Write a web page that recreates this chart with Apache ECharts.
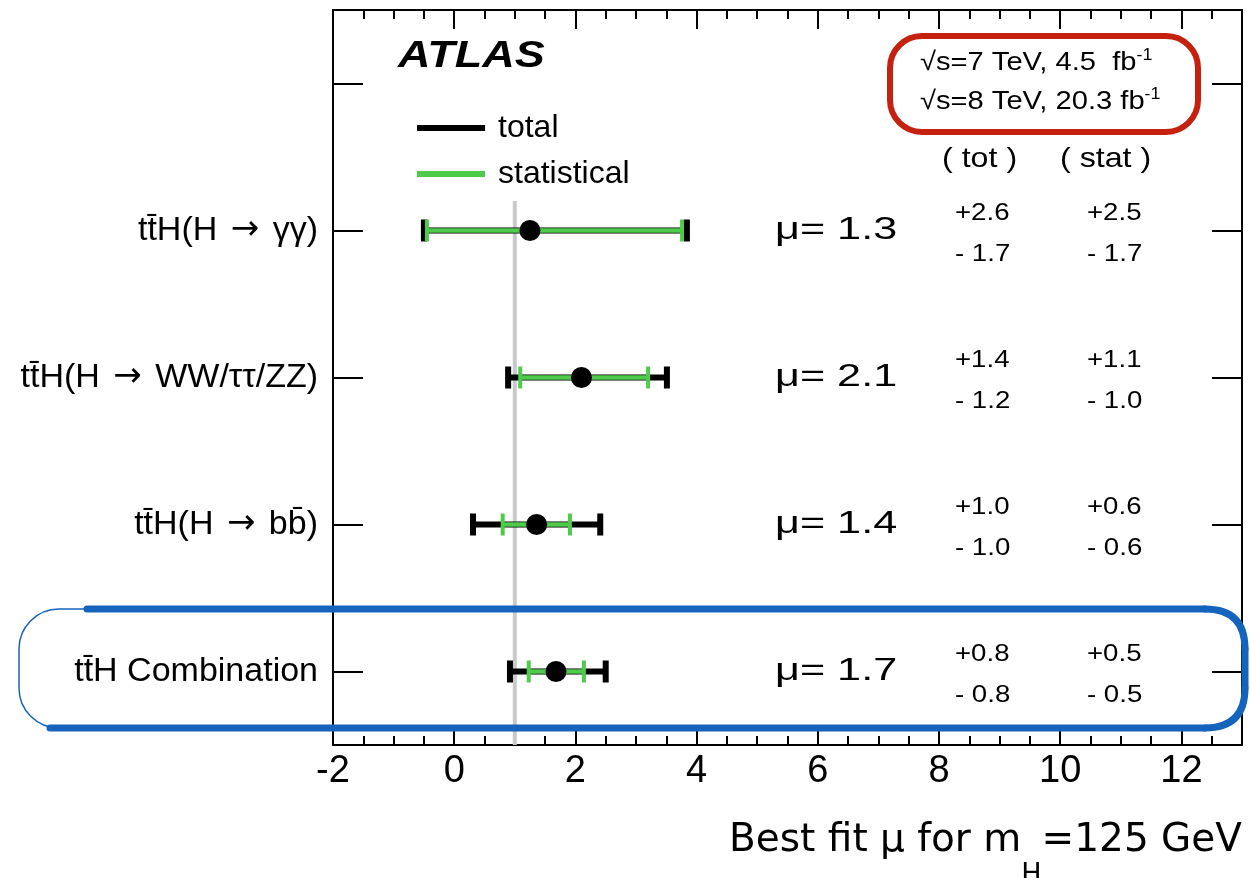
<!DOCTYPE html>
<html>
<head>
<meta charset="utf-8">
<script src="https://cdn.jsdelivr.net/npm/echarts@6/dist/echarts.min.js"></script>
<style>
  html, body { margin: 0; padding: 0; background: #fff; }
  #chart { width: 1250px; height: 878px; }
</style>
</head>
<body>
<div id="chart"></div>
<script>
// ---------------- data ----------------
const categories = ['t\u0074\u0304H(H \u2192 \u03b3\u03b3)', 't\u0074\u0304H(H \u2192 WW/\u03c4\u03c4/ZZ)', 't\u0074\u0304H(H \u2192 bb\u0304)', 't\u0074\u0304H Combination'];
const rowPos = [4, 3, 2, 1];
const muFit = [1.25, 2.10, 1.36, 1.68];
const totLow = [-0.50, 0.89, 0.31, 0.92];
const totHigh = [3.84, 3.51, 2.41, 2.50];
const statLow = [-0.45, 1.09, 0.80, 1.23];
const statHigh = [3.76, 3.20, 1.91, 2.14];
const muText = ['1.3', '2.1', '1.4', '1.7'];
const totUp = ['+2.6', '+1.4', '+1.0', '+0.8'];
const totDn = ['- 1.7', '- 1.2', '- 1.0', '- 0.8'];
const statUp = ['+2.5', '+1.1', '+0.6', '+0.5'];
const statDn = ['- 1.7', '- 1.0', '- 0.6', '- 0.5'];
const smValue = 1;
const smLineRange = [0.5, 4.2];
const xMajorTicks = [-2, 0, 2, 4, 6, 8, 10, 12];

// ---------------- style ----------------
const FONT = '"Liberation Sans", Arial, Helvetica, sans-serif';
const WIDE_FONT = '"DejaVu Sans", "Liberation Sans", sans-serif';
const GREEN = '#4fcb4c';
const BLUE = '#1463bd';

const chart = echarts.init(document.getElementById('chart'), null, { renderer: 'canvas' });

function errorBar(color, lineW, capW, capH) {
  return function (params, api) {
    const y = api.value(2);
    const p1 = api.coord([api.value(0), y]);
    const p2 = api.coord([api.value(1), y]);
    const st = { stroke: color, lineWidth: lineW, lineCap: 'butt' };
    const cs = { stroke: color, lineWidth: capW, lineCap: 'butt' };
    return {
      type: 'group',
      children: [
        { type: 'line', shape: { x1: p1[0], y1: p1[1], x2: p2[0], y2: p2[1] }, style: st },
        { type: 'line', shape: { x1: p1[0], y1: p1[1] - capH / 2, x2: p1[0], y2: p1[1] + capH / 2 }, style: cs },
        { type: 'line', shape: { x1: p2[0], y1: p2[1] - capH / 2, x2: p2[0], y2: p2[1] + capH / 2 }, style: cs }
      ]
    };
  };
}

function txt(x, y, text, size, sx) {
  return {
    type: 'text', x: x, y: y, scaleX: sx, scaleY: 1,
    style: { text: text, fill: '#000', font: size + 'px ' + FONT, align: 'left', verticalAlign: 'middle' }
  };
}

function annotRender(params, api) {
  const i = params.dataIndex;
  const y = api.coord([0, api.value(1)])[1];
  return {
    type: 'group',
    children: [
      txt(775, y, '\u03bc= ' + muText[i], 32, 1.35),
      txt(955, y - 17, totUp[i], 24, 1.15),
      txt(955, y + 24, totDn[i], 24, 1.15),
      txt(1087, y - 17, statUp[i], 24, 1.15),
      txt(1087, y + 24, statDn[i], 24, 1.15)
    ]
  };
}

function yLabel(v) {
  const k = rowPos.indexOf(v);
  if (k < 0) return '';
  const parts = categories[k].split('\u2192');
  if (parts.length === 1) return '{n|' + parts[0] + '}';
  return '{n|' + parts[0] + '}{ar|\u2192}{n|' + parts[1] + '}';
}

const frameLine = { show: true, onZero: false, lineStyle: { color: '#000', width: 2 } };
const tickStyle = { color: '#000', width: 2 };
const blueThick = { fill: 'none', stroke: BLUE, lineWidth: 7, lineCap: 'round' };

const option = {
  backgroundColor: '#fff',
  animation: false,
  grid: { left: 333, right: 8, top: 10, bottom: 133, containLabel: false, outerBoundsMode: 'none' },
  legend: {
    data: ['total', 'statistical'],
    orient: 'vertical',
    left: 412, top: 107,
    icon: 'rect',
    itemWidth: 68, itemHeight: 6, itemGap: 14,
    selectedMode: false,
    textStyle: { fontSize: 32, fontFamily: FONT, color: '#000', lineHeight: 32, padding: [0, 0, 0, 8] }
  },
  xAxis: [
    {
      type: 'value', position: 'bottom', min: -2, max: 13, interval: 2,
      axisLine: frameLine,
      axisTick: { show: true, inside: true, length: 19, lineStyle: tickStyle },
      axisLabel: {
        fontSize: 38, fontFamily: FONT, color: '#000', margin: 8,
        formatter: function (v) { return xMajorTicks.indexOf(v) >= 0 ? String(v) : ''; }
      },
      splitLine: { show: false },
      name: '{a|Best fit \u03bc for m}{s|H}{a|=125 GeV}',
      nameLocation: 'end', nameGap: 0,
      nameTextStyle: {
        align: 'right', verticalAlign: 'top', padding: [76, 0, 0, 0],
        rich: {
          a: { fontSize: 39, fontFamily: WIDE_FONT, color: '#000', lineHeight: 40, verticalAlign: 'top' },
          s: { fontSize: 27, fontFamily: WIDE_FONT, color: '#000', lineHeight: 28, padding: [40, 0, 0, 0], verticalAlign: 'top' }
        }
      }
    },
    {
      type: 'value', position: 'bottom', min: -2, max: 13, interval: 0.5,
      axisLine: { show: false },
      axisTick: { show: true, inside: true, length: 9, lineStyle: tickStyle },
      axisLabel: { show: false }, splitLine: { show: false }
    },
    {
      type: 'value', position: 'top', min: -2, max: 13, interval: 2,
      axisLine: frameLine,
      axisTick: { show: true, inside: true, length: 19, lineStyle: tickStyle },
      axisLabel: { show: false }, splitLine: { show: false }
    },
    {
      type: 'value', position: 'top', min: -2, max: 13, interval: 0.5,
      axisLine: { show: false },
      axisTick: { show: true, inside: true, length: 9, lineStyle: tickStyle },
      axisLabel: { show: false }, splitLine: { show: false }
    }
  ],
  yAxis: [
    {
      type: 'value', position: 'left', min: 0.5, max: 5.5,
      axisLine: frameLine,
      axisTick: { show: true, inside: true, length: 30, lineStyle: tickStyle },
      axisLabel: {
        margin: 15,
        formatter: yLabel,
        rich: {
          n: { fontSize: 34, fontFamily: FONT, color: '#000' },
          ar: { fontSize: 34, fontFamily: WIDE_FONT, color: '#000', padding: [0, 4, 0, 4] }
        }
      },
      splitLine: { show: false }
    },
    {
      type: 'value', position: 'right', min: 0.5, max: 5.5,
      axisLine: frameLine,
      axisTick: { show: true, inside: true, length: 30, lineStyle: tickStyle },
      axisLabel: { show: false }, splitLine: { show: false }
    }
  ],
  series: [
    {
      name: 'SM', type: 'line', silent: true, z: 1, symbol: 'none',
      data: [[smValue, smLineRange[0]], [smValue, smLineRange[1]]],
      lineStyle: { color: '#c9c9c9', width: 4 }
    },
    {
      name: 'total', type: 'custom', z: 2,
      itemStyle: { color: '#000' },
      renderItem: errorBar('#000', 6, 6, 22),
      encode: { x: [0, 1], y: 2 },
      data: rowPos.map((r, i) => [totLow[i], totHigh[i], r])
    },
    {
      name: 'statistical', type: 'custom', z: 3,
      itemStyle: { color: GREEN },
      renderItem: errorBar(GREEN, 4.5, 4, 22),
      encode: { x: [0, 1], y: 2 },
      data: rowPos.map((r, i) => [statLow[i], statHigh[i], r])
    },
    {
      name: 'best fit', type: 'scatter', z: 5, symbol: 'circle', symbolSize: 21,
      itemStyle: { color: '#000', opacity: 1 },
      data: rowPos.map((r, i) => [muFit[i], r])
    },
    {
      name: 'annotations', type: 'custom', z: 6, silent: true,
      renderItem: annotRender,
      encode: { x: 0, y: 1 },
      data: rowPos.map((r) => [0, r])
    }
  ],
  graphic: [
    { type: 'text', x: 398, y: 57, scaleX: 1.25, z: 10,
      style: { text: 'ATLAS', fill: '#000', font: 'italic bold 36px ' + FONT, align: 'left', verticalAlign: 'middle' } },
    { type: 'text', x: 920, y: 63, scaleX: 1.12, z: 10,
      style: { text: '{n|\u221as=7 TeV, 4.5  fb}{p|-1}', fill: '#000', align: 'left', verticalAlign: 'middle',
        rich: { n: { font: '26px ' + FONT, fill: '#000' }, p: { font: '16px ' + FONT, fill: '#000', padding: [0, 0, 14, 0] } } } },
    { type: 'text', x: 920, y: 102, scaleX: 1.12, z: 10,
      style: { text: '{n|\u221as=8 TeV, 20.3 fb}{p|-1}', fill: '#000', align: 'left', verticalAlign: 'middle',
        rich: { n: { font: '26px ' + FONT, fill: '#000' }, p: { font: '16px ' + FONT, fill: '#000', padding: [0, 0, 14, 0] } } } },
    { type: 'text', x: 942, y: 159, scaleX: 1.15, z: 10,
      style: { text: '( tot )', fill: '#000', font: '28px ' + FONT, align: 'left', verticalAlign: 'middle' } },
    { type: 'text', x: 1060, y: 159, scaleX: 1.15, z: 10,
      style: { text: '( stat )', fill: '#000', font: '28px ' + FONT, align: 'left', verticalAlign: 'middle' } },
    { type: 'rect', z: 20, shape: { x: 890, y: 36, width: 308, height: 96, r: 32 },
      style: { fill: 'none', stroke: '#c4220f', lineWidth: 6 } },
    { type: 'rect', z: 20, shape: { x: 19, y: 609, width: 1226, height: 119, r: 40 },
      style: { fill: 'none', stroke: BLUE, lineWidth: 1.5 } },
    { type: 'line', z: 20, shape: { x1: 87, y1: 609, x2: 1205, y2: 609 }, style: blueThick },
    { type: 'bezierCurve', z: 20, shape: { x1: 1205, y1: 609, cpx1: 1245, cpy1: 609, x2: 1245, y2: 649 }, style: blueThick },
    { type: 'line', z: 20, shape: { x1: 1245, y1: 649, x2: 1245, y2: 688 }, style: blueThick },
    { type: 'bezierCurve', z: 20, shape: { x1: 1245, y1: 688, cpx1: 1245, cpy1: 728, x2: 1205, y2: 728 }, style: blueThick },
    { type: 'line', z: 20, shape: { x1: 1205, y1: 728, x2: 50, y2: 728 }, style: blueThick }
  ]
};

chart.setOption(option);
</script>
</body>
</html>
